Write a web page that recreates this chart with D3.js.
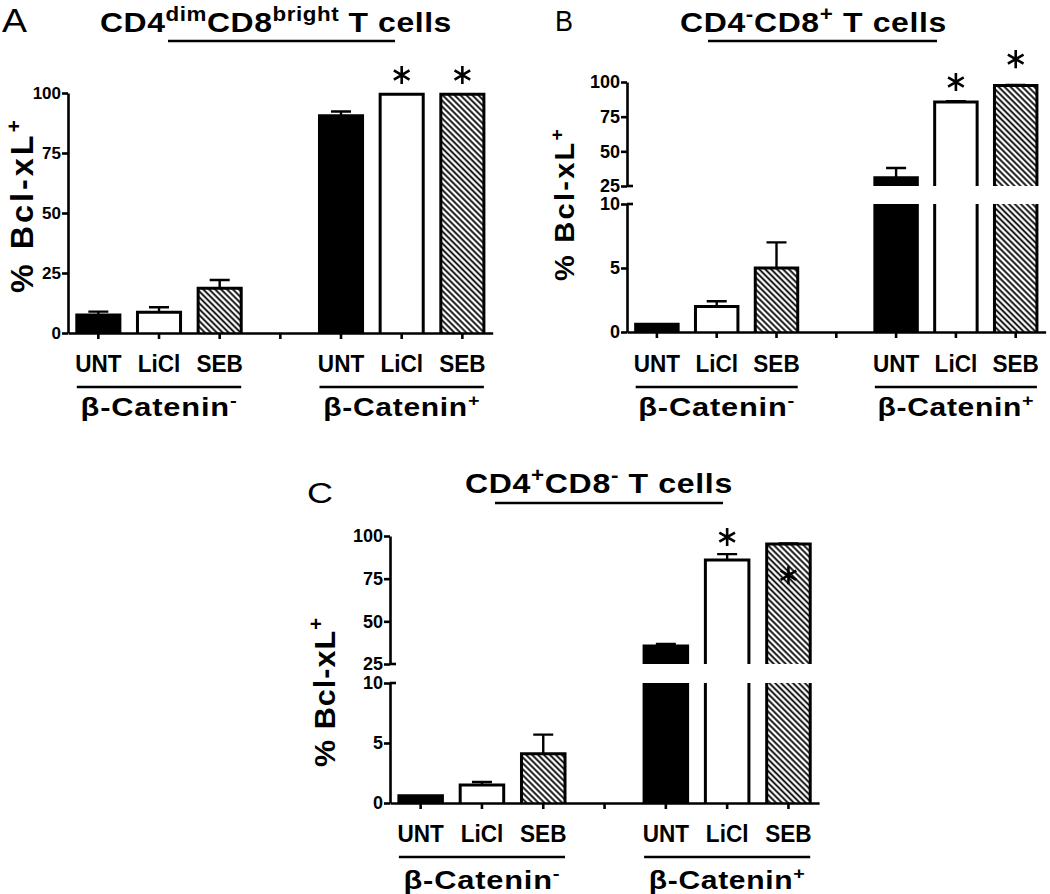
<!DOCTYPE html>
<html>
<head>
<meta charset="utf-8">
<script src="https://cdn.jsdelivr.net/npm/d3@7"></script>
<style>
  body { margin: 0; background: #fff; }
  svg { display: block; }
</style>
</head>
<body>
<svg id="fig" width="1050" height="894"></svg>
<script>
// ---- data ----
const slots = ["UNT-", "LiCl-", "SEB-", "gap", "UNT+", "LiCl+", "SEB+"];
const barSlots = ["UNT-", "LiCl-", "SEB-", "UNT+", "LiCl+", "SEB+"];
const treatments = ["UNT", "LiCl", "SEB"];
const groupLabels = [["β-Catenin", "-"], ["β-Catenin", "+"]];

const valuesA = [7.5, 8.6, 18.6, 90.5, 99.5, 99.5];
const errorsA = [1.4, 2.1, 3.5, 1.8, 0, 0];
const starsA = [null, null, null, null, 107.5, 107.5];

const valuesB = [0.6, 2.0, 5.0, 31, 85.5, 97.5];
const errorsB = [0, 0.4, 2.0, 7, 0.6, 0.3];
const starsB = [null, null, null, null, 100, 116.5];

const valuesC = [0.6, 1.5, 4.1, 35.5, 86, 95.3];
const errorsC = [0, 0.25, 1.6, 1.2, 3.4, 0.4];
const starsC = [null, null, null, null, 99.4, 77];

const ticksFull = [0, 25, 50, 75, 100];
const ticksLow = [0, 5, 10];
const ticksHigh = [25, 50, 75, 100];

const titleA = [["CD4"], ["dim", 1], ["CD8"], ["bright", 1], [" T cells"]];
const titleB = [["CD4"], ["-", 1], ["CD8"], ["+", 1], [" T cells"]];
const titleC = [["CD4"], ["+", 1], ["CD8"], ["-", 1], [" T cells"]];
const yLabel = [["% Bcl-xL"], ["+", 1]];

// ---- layout ----
const FONT = "'Liberation Sans', Arial, Helvetica, sans-serif";
const AXIS_W = 2.6;
const BAR_STROKE = 3;
const CAT_FONT = 24;
const fills = { UNT: "#000", LiCl: "#fff", SEB: "url(#hatch)" };

const panels = [
  { letter: "A", letterX: 2, letterY: 32, letterW: 25, letterSize: 33,
    title: titleA, titleX: 100, titleY: 32, titleW: 352, ruleY: 41, rule: [168, 395],
    axisX: 68, step: 60.67, low: [0, 100], lowRange: [333, 93], ticks: ticksFull, tickFont: 17,
    yLabX: 33, yLabY: 205, yLabW: 176, yLabSize: 31,
    catY: 39, groupRuleY: 387, groupY: 416,
    values: valuesA, errors: errorsA, stars: starsA },
  { letter: "B", letterX: 555, letterY: 31, letterW: 18, letterSize: 29,
    title: titleB, titleX: 680, titleY: 32, titleW: 267, ruleY: 41, rule: [708, 937],
    axisX: 627, step: 59.8, low: [0, 10], lowRange: [332, 204], highRange: [186, 82], tickFont: 18,
    yLabX: 574, yLabY: 204, yLabW: 154, yLabSize: 28,
    catY: 40, groupRuleY: 387, groupY: 416,
    values: valuesB, errors: errorsB, stars: starsB },
  { letter: "C", letterX: 307, letterY: 503, letterW: 26, letterSize: 30,
    title: titleC, titleX: 465, titleY: 493, titleW: 268, ruleY: 503, rule: [495, 723],
    axisX: 390, step: 61.3, low: [0, 10], lowRange: [803, 683], highRange: [664, 536], tickFont: 18,
    yLabX: 335, yLabY: 692, yLabW: 150, yLabSize: 30,
    catY: 39, groupRuleY: 857, groupY: 889,
    values: valuesC, errors: errorsC, stars: starsC }
];

const svg = d3.select("#fig");

const HATCH = 4.2;
const hatch = svg.append("defs").append("pattern")
  .attr("id", "hatch")
  .attr("patternUnits", "userSpaceOnUse")
  .attr("width", HATCH)
  .attr("height", HATCH)
  .attr("patternTransform", "rotate(-45)");
hatch.append("rect").attr("width", HATCH).attr("height", HATCH).attr("fill", "#fff");
hatch.append("line")
  .attr("x1", HATCH / 2).attr("x2", HATCH / 2).attr("y1", -1).attr("y2", HATCH + 1)
  .attr("stroke", "#000").attr("stroke-width", 1.8);

// text with superscript parts, returns the text selection
function richText (parent, parts, size, weight, supRatio) {
  const ratio = supRatio || 0.66;
  const t = parent.append("text")
    .attr("font-family", FONT)
    .attr("font-weight", weight || "bold")
    .attr("font-size", size);
  let raised = false;
  parts.forEach(([s, sup]) => {
    const span = t.append("tspan").text(s);
    if (sup) {
      span.attr("font-size", size * ratio).attr("dy", raised ? 0 : -size * 0.4);
      raised = true;
    } else {
      span.attr("dy", raised ? size * 0.4 : 0);
      raised = false;
    }
  });
  return t;
}

// widen a text to the wanted width: part letter spacing, part stretch
function fit (text, width, spacingShare) {
  const node = text.node();
  const w = node.getBBox().width;
  if (!w) return;
  const n = node.getNumberOfChars();
  if (width > w && n > 1 && spacingShare > 0) {
    text.attr("letter-spacing", (width - w) * spacingShare / (n - 1));
  }
  const w2 = node.getBBox().width;
  text.attr("transform", `scale(${width / w2},1)`);
}

function drawPanel (p) {
  const g = svg.append("g");
  const broken = !!p.highRange;

  const x = d3.scaleBand()
    .domain(slots)
    .range([p.axisX, p.axisX + 7 * p.step])
    .paddingInner(0.29)
    .paddingOuter(0.145);
  const yLow = d3.scaleLinear().domain(p.low).range(p.lowRange);
  const yHigh = broken ? d3.scaleLinear().domain([25, 100]).range(p.highRange) : null;
  const yOf = v => (broken && v > 25) ? yHigh(v) : yLow(v);

  // panel letter
  const lg = g.append("g").attr("transform", `translate(${p.letterX},${p.letterY})`);
  fit(richText(lg, [[p.letter]], p.letterSize, "normal"), p.letterW, 0);

  // title + rule
  const tg = g.append("g").attr("transform", `translate(${p.titleX},${p.titleY})`);
  fit(richText(tg, p.title, 28, "bold", 0.7), p.titleW, 0.2);
  g.append("line")
    .attr("x1", p.rule[0]).attr("x2", p.rule[1])
    .attr("y1", p.ruleY).attr("y2", p.ruleY)
    .attr("stroke", "#000").attr("stroke-width", 2.6);

  // y label
  const yg = g.append("g").attr("transform", `translate(${p.yLabX},${p.yLabY}) rotate(-90)`);
  const yt = richText(yg, yLabel, p.yLabSize).attr("text-anchor", "middle");
  fit(yt, p.yLabW, 0.7);

  // bars
  const bars = barSlots.map((s, i) => ({
    slot: s,
    treat: treatments[i % 3],
    value: p.values[i],
    err: p.errors[i],
    star: p.stars[i]
  }));
  const bw = x.bandwidth();

  const segments = d => {
    if (broken && d.value > 25) {
      return [
        { y0: yHigh(25), y1: yHigh(d.value), top: true, d },
        { y0: yLow(0), y1: yLow(10), top: false, d }
      ];
    }
    return [{ y0: yLow(0), y1: yLow(d.value), top: true, d }];
  };

  const barG = g.append("g").selectAll("g")
    .data(bars)
    .join("g");

  barG.selectAll("rect")
    .data(segments)
    .join("rect")
    .attr("x", s => x(s.d.slot))
    .attr("width", bw)
    .attr("y", s => s.y1)
    .attr("height", s => s.y0 - s.y1)
    .attr("fill", s => fills[s.d.treat]);

  barG.selectAll("path.edge")
    .data(segments)
    .join("path")
    .attr("class", "edge")
    .attr("fill", "none")
    .attr("stroke", "#000")
    .attr("stroke-width", BAR_STROKE)
    .attr("d", s => {
      const x0 = x(s.d.slot), x1 = x0 + bw;
      if (s.top) return `M${x0},${s.y0}V${s.y1}H${x1}V${s.y0}`;
      return `M${x0},${s.y0}V${s.y1}M${x1},${s.y1}V${s.y0}`;
    });

  // error bars (upper side only)
  const withErr = bars.filter(d => d.err > 0);
  const cx = d => x(d.slot) + bw / 2;
  g.append("g").selectAll("path")
    .data(withErr)
    .join("path")
    .attr("fill", "none")
    .attr("stroke", "#000")
    .attr("stroke-width", 2.4)
    .attr("d", d => {
      const yt = yOf(d.value + d.err);
      return `M${cx(d)},${yOf(d.value)}V${yt}M${cx(d) - 10},${yt}H${cx(d) + 10}`;
    });

  // significance asterisks
  g.append("g").selectAll("path")
    .data(bars.filter(d => d.star !== null))
    .join("path")
    .attr("d", d3.symbol(d3.symbolAsterisk, 230))
    .attr("transform", d => `translate(${cx(d)},${yOf(d.star)})`)
    .attr("fill", "none")
    .attr("stroke", "#000")
    .attr("stroke-width", 2.6);

  // axes
  const styleAxis = sel => {
    sel.selectAll("path, line").attr("stroke", "#000").attr("stroke-width", AXIS_W);
    sel.selectAll("text")
      .attr("font-family", FONT)
      .attr("font-weight", "bold")
      .attr("fill", "#000");
  };
  const yAxis = (scale, values) => g.append("g")
    .attr("transform", `translate(${p.axisX},0)`)
    .call(d3.axisLeft(scale).tickValues(values).tickSize(6).tickSizeOuter(0).tickPadding(1))
    .call(styleAxis)
    .call(s => s.selectAll("text").attr("font-size", p.tickFont));

  if (broken) {
    yAxis(yLow, ticksLow);
    yAxis(yHigh, ticksHigh);
    // nubs at the break
    g.append("g").selectAll("line")
      .data([yHigh(25), yLow(10)])
      .join("line")
      .attr("x1", p.axisX).attr("x2", p.axisX + 6)
      .attr("y1", d => d).attr("y2", d => d)
      .attr("stroke", "#000").attr("stroke-width", AXIS_W);
  } else {
    yAxis(yLow, p.ticks);
  }

  g.append("g")
    .attr("transform", `translate(0,${yLow(0)})`)
    .call(d3.axisBottom(x)
      .tickSize(6)
      .tickSizeOuter(0)
      .tickPadding(p.catY - 6 - CAT_FONT * 0.71)
      .tickFormat(d => d === "gap" ? "" : d.replace(/[-+]$/, "")))
    .call(styleAxis)
    .call(s => s.selectAll("text")
      .attr("font-size", CAT_FONT)
      .attr("transform", "scale(0.94,1)"));

  // group rules + labels
  const groups = [barSlots.slice(0, 3), barSlots.slice(3)];
  groups.forEach((gs, i) => {
    const x0 = x(gs[0]);
    const x1 = x(gs[2]) + bw;
    g.append("line")
      .attr("x1", x0).attr("x2", x1)
      .attr("y1", p.groupRuleY).attr("y2", p.groupRuleY)
      .attr("stroke", "#000").attr("stroke-width", 2.6);
    const gg = g.append("g").attr("transform", `translate(${(x0 + x1) / 2},${p.groupY})`);
    const t = richText(gg, [[groupLabels[i][0]], [groupLabels[i][1], 1]], 26).attr("text-anchor", "middle");
    fit(t, 157, 0.2);
  });
}

panels.forEach(drawPanel);
</script>
</body>
</html>
